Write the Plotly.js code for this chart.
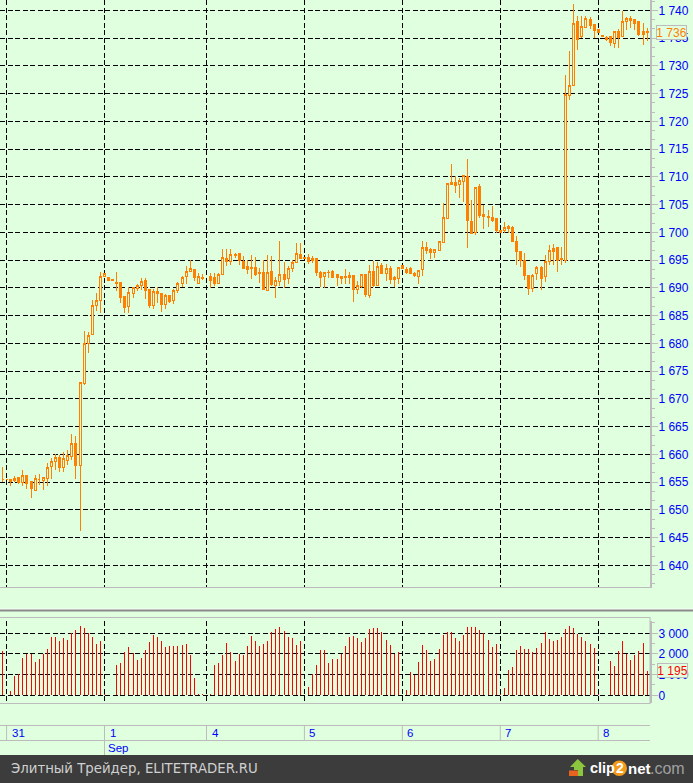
<!DOCTYPE html>
<html><head><meta charset="utf-8">
<script src="https://cdn.plot.ly/plotly-3.0.1.min.js"></script>
<style>html,body{margin:0;padding:0;background:#dfffdf;overflow:hidden}
.boxlayer path{shape-rendering:crispEdges}</style></head>
<body><div id="chart" style="width:693px;height:783px"></div>
<script>
const opens=[1655.5,1655.4,1655.1,1655.2,1655.8,1654.9,1656.1,1655.1,1653.5,1655.4,
1655.3,1655.6,1657.8,1658.7,1659.5,1657.6,1658.9,1659.6,1661.9,1658,
1672.7,1679.9,1681.6,1686.8,1687.7,1692,1691.8,1691.5,1691,1691,
1688.4,1686.7,1688.9,1689.8,1690.4,1691.3,1689.7,1686.8,1689.3,1688.9,
1687,1688.6,1687.8,1689.6,1690.7,1692,1693,1693.3,1690.7,1691.8,
null,1692.1,1691.9,1690.8,1692.4,1695.3,1694.8,1696,1696.2,1694.8,
1693.9,1693.6,1693.6,1692.8,1692.8,1689.6,1692.9,1690.4,1691.2,1692.4,
1691.7,1693.4,1694.5,1696,1695.4,1695.5,1695.2,1695.2,1692.7,1692.1,
1692.8,1692.9,1692.4,1692.1,1692,1692.2,1692.2,1689.7,1690.3,1692.4,
1688.6,1692.9,1690.5,1694,1692.6,1693.4,1691.9,1691.6,1694,1693.3,
1693.4,1692.5,1692.1,1693.3,1697.3,1696.9,1696.4,1696.7,1698.1,1702.5,
1708.9,1709,1708.6,1709.1,1710.1,1702,1699.9,1708.3,1703.3,1702.9,
1702.7,1702.4,1700.4,1700.4,1700.7,1700.9,1698.4,1696.6,1695,1692.3,
1689.9,1692.5,1693.7,1692,1694.8,1697,1697.2,1695.2,1695,1724.7,
1726.5,1738,1735.3,1736.9,1738.3,1737.4,1736.5,1735.4,1735.1,1735.3,
1734.1,1736.1,1735.3,1738,1738.6,1738.4,1737.9,1736.2,1736.1];
const highs=[1657.7,1655.4,1655.5,1656.1,1656,1657.2,1656.1,1655.1,1656.3,1656.5,
1655.9,1658.4,1659.4,1660,1659.9,1660.4,1660.8,1663.7,1663.3,1672.9,
1682.2,1682,1687.8,1689,1692.9,1692.5,1691.8,1691.5,1692.9,1691,
1688.4,1690.1,1690.2,1690.7,1691.8,1691.8,1689.8,1689.8,1690.2,1689.1,
1688.9,1688.7,1689.7,1691,1692.2,1693.9,1695.1,1693.4,1692.6,1692.5,
null,1692.7,1692.7,1692.6,1697,1697,1697,1696.3,1696.2,1695.7,
1695.1,1696,1695.6,1693.6,1695.1,1696,1695.8,1692,1698.5,1694.6,
1693.9,1695.1,1698.1,1698,1695.4,1696.1,1695.8,1695.4,1693,1692.8,
1693.3,1693.3,1692.4,1692.2,1693.4,1692.8,1692.2,1691.3,1692.5,1692.5,
1694.2,1694.8,1694.7,1694.5,1694.3,1693.9,1692.1,1693.7,1694,1693.7,
1693.7,1692.9,1693.3,1698.5,1698.2,1697.2,1696.9,1698.5,1705.2,1708.8,
1712.3,1710.1,1709.8,1710.2,1713.3,1705.9,1708.1,1708.7,1704.9,1704.1,
1704.7,1702.5,1700.4,1701.9,1701.3,1701.1,1699.3,1696.6,1696.3,1692.3,
1692.5,1694,1694,1695.9,1697.7,1697.9,1697.2,1697.3,1728.4,1732.7,
1741.2,1738.9,1739,1739,1738.8,1737.4,1736.5,1735.4,1735.3,1735.3,
1736.1,1736.6,1739.8,1738.8,1738.9,1738.4,1737.9,1737.7,1736.8];
const lows=[1655.1,1655.4,1654.3,1655,1654.7,1654.3,1653.8,1652.2,1653.5,1654.5,
1653.6,1654.3,1655.6,1657.2,1656.9,1656.9,1658.1,1659,1655.6,1646.1,
1672.5,1678.3,1681.6,1685.8,1685.5,1692,1691.4,1691.3,1689.5,1687.2,
1685.4,1685.4,1688.1,1689.4,1689.6,1687.9,1686.4,1686.1,1687.3,1685.6,
1686.1,1687.3,1687,1689,1690.1,1690.7,1692.8,1691.2,1690.7,1691.4,
null,1690,1690.3,1690.6,1692.4,1694,1694.2,1695.4,1694.2,1693.4,
1692.5,1691.5,1692.1,1690.8,1689.6,1689.6,1690.4,1688.2,1690.4,1690,
1690.6,1692.8,1694.5,1695.2,1695.3,1694.3,1694.5,1692.1,1690.1,1690,
1691.8,1691.8,1690.4,1690.6,1690.6,1690.7,1687.4,1688.8,1690,1688.3,
1688.2,1690.1,1690.3,1692.5,1691.2,1690.6,1690.1,1690.7,1693.5,1692.5,
1692.4,1691.9,1690.7,1692.2,1696.1,1695.2,1695.4,1696.7,1698.1,1702.5,
1708.6,1707.1,1706.2,1705.5,1697.1,1699.8,1699.6,1702.6,1700.6,1700.9,
1701.9,1699.9,1700,1699.8,1699.8,1698.4,1694.1,1693.8,1691.4,1688.7,
1689.3,1691.4,1689.6,1691.1,1694.1,1694.1,1692.9,1694.1,1694.5,1723.8,
1726.5,1732.9,1735,1736.9,1736.6,1735,1736,1735.3,1734.4,1733.5,
1733.3,1733.3,1735.3,1736.4,1736.8,1736.5,1735.3,1733.7,1734.4];
const closes=[1655.5,1655.4,1655.4,1655.7,1654.9,1656.1,1654.7,1653.8,1655.6,1655.4,
1655.9,1657.7,1658.7,1659.5,1657.6,1659.2,1659.7,1661.9,1658,1672.9,
1679.9,1681.4,1686.8,1687.8,1692,1692.5,1691.4,1691.3,1690.7,1688.3,
1686.5,1689.2,1690,1690.4,1691.1,1689.6,1686.8,1689.3,1689,1687,
1688.7,1687.5,1689.5,1690.8,1691.8,1693,1693.4,1691.9,1692,1691.6,
null,1691.4,1690.8,1692.4,1695.4,1694.8,1696,1695.8,1694.9,1693.4,
1693.3,1693.5,1692.4,1692.5,1689.7,1692.7,1690.6,1691.3,1692.4,1691.5,
1693.4,1694.5,1696.1,1695.2,1695.3,1694.8,1694.9,1692.8,1691.9,1692.7,
1692.7,1691.9,1691.8,1691.6,1691.9,1691.8,1689.7,1690.4,1692.4,1688.8,
1692.9,1690.4,1693.9,1692.5,1693.4,1691.5,1691.5,1693.7,1693.5,1692.8,
1692.5,1692.2,1693.1,1697.2,1696.7,1696.4,1696.9,1698.3,1702.7,1708.8,
1708.6,1708.4,1709.3,1710.2,1702.1,1699.8,1708.1,1703,1702.8,1702.6,
1702.2,1700.4,1700,1700.9,1701.1,1698.4,1696.6,1695,1692.2,1689.9,
1692.3,1693.7,1691.7,1694.8,1696.8,1696.6,1694.9,1695.1,1724.8,1726.4,
1737.7,1734.8,1737,1738.5,1737.2,1736.3,1736,1735.3,1734.7,1734.2,
1736.1,1735.1,1738,1738.5,1738.1,1737.7,1735.7,1735.6,1736];
const volumes=[2145,30,210,935,1015,1805,1985,2000,1615,1760,
2000,2240,2820,2820,2630,2775,2680,3015,3160,3355,
3260,3015,2820,2485,2630,50,15,15,1470,1565,
2100,2340,2050,1710,1805,2195,2580,2920,2820,2630,
2340,2390,2390,2390,2435,2485,1950,840,50,50,
0,65,1470,1565,1950,2530,2100,1660,2000,1950,
2390,2870,2630,2390,2485,2630,3065,3210,3305,3115,
2820,2775,2435,2630,15,400,1015,1470,2195,2195,
1565,1760,1760,2000,2390,2820,2870,2775,2580,2775,
3210,3260,3260,3065,2680,2435,2000,2100,30,260,
1130,985,1615,2435,2195,1660,1760,2240,2920,3065,
3065,2775,2630,2920,3305,3305,3305,3160,3015,2680,
2340,2485,50,355,1225,1370,2195,2390,2240,2240,
2100,2290,2530,3065,2725,2630,2680,2820,3210,3355,
3260,2970,2820,2630,2485,2290,50,15,15,1660,
1420,2145,2630,2000,1710,1950,2145,2530,1195];
const dayStarts=[1,25,50,74,98,122,146];
const dayLabels=['31','1','4','5','6','7','8'];
const priceTicks=[1640,1645,1650,1655,1660,1665,1670,1675,1680,1685,1690,1695,1700,1705,1710,1715,1720,1725,1730,1735,1740];
const volumeTicks=[0,1000,2000,3000];
const volumeTickText=['0','1 000','2 000','3 000'];
const lastPrice=1736, lastVolume=1195;

const W=693,H=783,BG='#dfffdf',ORANGE='#ff8000',GRAY='#bcbcbc',BLUE='#0000ff';
const px=x=>x/W, py=y=>1-y/H;
const fmt=v=>String(v).replace(/(\d)(\d{3})$/,'$1 $2');
const idx=opens.map((_,i)=>i);
const gridStyle={showgrid:true,gridcolor:'#000000',gridwidth:1,griddash:'5px,2.5px',zeroline:false};
const xBase=Object.assign({},gridStyle,{range:[-0.613,158.70],tickmode:'array',tickvals:dayStarts,showticklabels:false,ticks:'',showline:false,fixedrange:true});
const yBase=Object.assign({},gridStyle,{side:'right',ticks:'outside',ticklen:6,tickwidth:1,tickcolor:GRAY,tickmode:'array',ticklabelstandoff:-2,
  showline:true,linecolor:GRAY,linewidth:2,fixedrange:true,tickfont:{family:'Liberation Sans',size:12,color:BLUE}});

const traces=[
 {type:'candlestick',x:idx,open:opens,high:highs,low:lows,close:closes,xaxis:'x',yaxis:'y',whiskerwidth:0,hoverinfo:'skip',
  increasing:{line:{color:ORANGE,width:1},fillcolor:BG},decreasing:{line:{color:ORANGE,width:1},fillcolor:ORANGE}},
 {type:'bar',x:idx,y:volumes,xaxis:'x2',yaxis:'y2',width:0.245,marker:{color:'#ff0000',line:{width:0}},hoverinfo:'skip'}
];
const hline=(x0,x1,y,c,w)=>({type:'line',xref:'paper',yref:'paper',x0:px(x0),x1:px(x1),y0:py(y),y1:py(y),line:{color:c,width:w||1},layer:'above'});
const vline=(x,y0,y1,c)=>({type:'line',xref:'x',yref:'paper',x0:x,x1:x,y0:py(y0),y1:py(y1),line:{color:c,width:1},layer:'above'});
const poly=(pts,c)=>({type:'path',xref:'paper',yref:'paper',path:'M'+pts.map(p=>px(p[0])+','+py(p[1])).join('L')+'Z',fillcolor:c,line:{width:0},layer:'above'});
const shapes=[
 hline(0,650,587.5,GRAY),hline(0,693,609,'#ffffff'),hline(0,693,610.5,'#8c8c8c',2),hline(0,650,617.5,GRAY),
 hline(0,650,703.5,GRAY),hline(0,650,725.5,GRAY),hline(0,650,740.5,GRAY),
 {type:'line',xref:'paper',yref:'paper',x0:px(650),x1:px(650),y0:py(617),y1:py(704),line:{color:GRAY,width:1},layer:'above'},
 ...dayStarts.map(d=>vline(d,726,740,GRAY)),
 vline(25,741,755,GRAY),
 {type:'rect',xref:'paper',yref:'paper',x0:0,x1:1,y0:0,y1:py(755),fillcolor:'#3c3c3c',line:{width:0},layer:'above'},
 poly([[577.7,759],[570,767],[574,767],[574,770],[578,770],[578,776],[583,776],[583,767],[586,767]],'#8cc63f'),
 poly([[569,770.5],[578,770.5],[578,776],[569,776]],'#e8641e'),
 {type:'circle',xref:'paper',yref:'paper',x0:px(611.5),x1:px(627),y0:py(760.5),y1:py(776),fillcolor:'#f39a1d',line:{width:0},layer:'above'}
];
const txt=(t,x,y,c,size,fam,extra)=>Object.assign({text:t,xref:'paper',yref:'paper',x:px(x),y:py(y),xanchor:'left',yanchor:'middle',showarrow:false,
  font:{color:c,size:size,family:fam||'Liberation Sans'},borderpad:0},extra||{});
const annotations=[
 ...dayStarts.map((d,k)=>({text:dayLabels[k],xref:'x',yref:'paper',x:d,y:py(732.5),xanchor:'left',yanchor:'middle',xshift:3,showarrow:false,font:{color:BLUE,size:11.5,family:'Liberation Sans'}})),
 {text:'Sep',xref:'x',yref:'paper',x:dayStarts[1],y:py(748),xanchor:'left',yanchor:'middle',xshift:1.5,showarrow:false,font:{color:BLUE,size:11.5,family:'Liberation Sans'}},
 {text:fmt(lastPrice),xref:'paper',yref:'y',x:px(671.5),y:lastPrice,xanchor:'center',yanchor:'middle',showarrow:false,font:{color:ORANGE,size:12,family:'Liberation Sans'},bgcolor:BG,bordercolor:GRAY,borderwidth:1,borderpad:0,width:29,height:13},
 {text:fmt(lastVolume),xref:'paper',yref:'y2',x:px(672),y:lastVolume,xanchor:'center',yanchor:'middle',showarrow:false,font:{color:'#ff0000',size:12,family:'Liberation Sans'},bgcolor:BG,bordercolor:GRAY,borderwidth:1,borderpad:0,width:29,height:13},
 txt('Элитный Трейдер, ELITETRADER.RU',10,768.5,'#d0d0d0',13.3,'DejaVu Sans'),
 txt('<b>clip</b>',589,768,'#ffffff',14.5),
 txt('<b>2</b>',615.2,768,'#ffffff',14),
 txt('<b>net</b>',627,768,'#ffffff',15),
 txt('.com',649,768,'#a0a0a0',16)
];
const layout={width:W,height:H,margin:{l:0,r:0,t:0,b:0},paper_bgcolor:BG,plot_bgcolor:BG,showlegend:false,hovermode:false,boxgap:0.3,boxmode:'overlay',bargap:0,
 xaxis:Object.assign({},xBase,{domain:[0,650/W],anchor:'y',rangeslider:{visible:false}}),
 xaxis2:Object.assign({},xBase,{domain:[0,650/W],anchor:'y2'}),
 yaxis:Object.assign({},yBase,{domain:[py(587.5),1],range:[1636,1741.86],tickvals:priceTicks,ticktext:priceTicks.map(fmt),
   minor:{tickmode:'linear',tick0:1640,dtick:5/3,ticks:'outside',ticklen:3,tickcolor:GRAY,tickwidth:1,showgrid:false}}),
 yaxis2:Object.assign({},yBase,{domain:[py(703),py(621)],range:[-372,3595],tickvals:volumeTicks,ticktext:volumeTickText,
   minor:{tickmode:'linear',tick0:0,dtick:500,ticks:'outside',ticklen:3,tickcolor:GRAY,tickwidth:1,showgrid:false}}),
 shapes:shapes,annotations:annotations};
Plotly.newPlot('chart',traces,layout,{displayModeBar:false,staticPlot:true});
</script></body></html>
